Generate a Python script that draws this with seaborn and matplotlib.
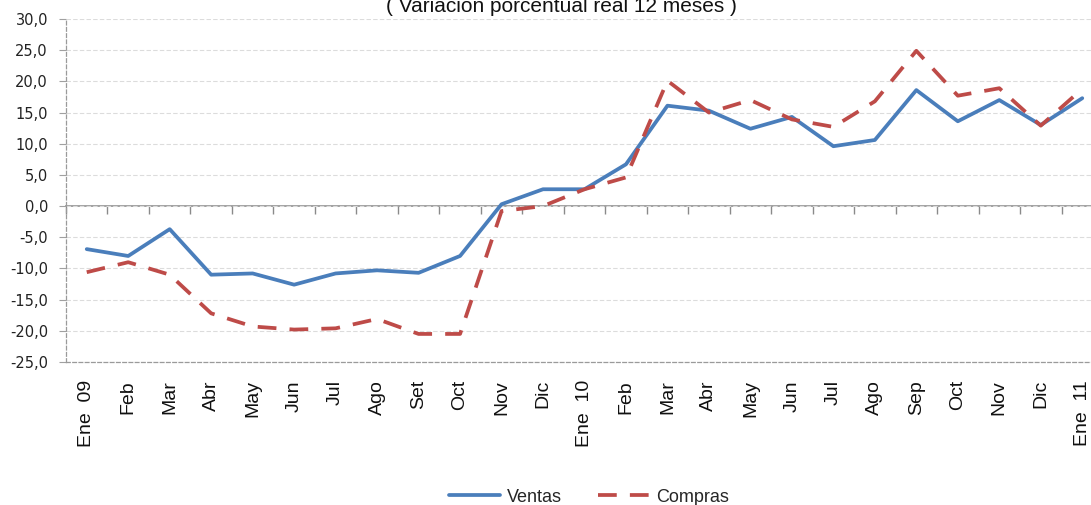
import matplotlib
matplotlib.use("Agg")
import matplotlib.pyplot as plt
import seaborn as sns
import pandas as pd
import numpy as np

months = ["Ene  09", "Feb", "Mar", "Abr", "May", "Jun", "Jul", "Ago", "Set", "Oct", "Nov", "Dic",
          "Ene  10", "Feb", "Mar", "Abr", "May", "Jun", "Jul", "Ago", "Sep", "Oct", "Nov", "Dic",
          "Ene  11"]
ventas = [-6.9, -8.0, -3.7, -11.0, -10.8, -12.6, -10.8, -10.3, -10.7, -8.0, 0.3, 2.7,
          2.7, 6.7, 16.1, 15.3, 12.4, 14.3, 9.6, 10.6, 18.6, 13.6, 17.0, 13.0, 17.3]
compras = [-10.6, -9.0, -11.0, -17.2, -19.3, -19.8, -19.6, -18.1, -20.5, -20.5, -0.8, 0.0,
           2.7, 4.6, 20.1, 15.0, 17.0, 13.9, 12.7, 16.8, 24.9, 17.7, 18.9, 12.9, 18.8]
yticks = [-25, -20, -15, -10, -5, 0, 5, 10, 15, 20, 25, 30]
title = "( Variación porcentual real 12 meses )"

sns.set_theme(style="white")
plt.rcParams["font.family"] = ["Liberation Sans", "DejaVu Sans"]

df = pd.DataFrame({"idx": np.arange(len(months)), "Ventas": ventas, "Compras": compras})

fig = plt.figure(figsize=(10.91, 5.05), dpi=100)
ax = fig.add_axes([66 / 1091, 143 / 505, 1037 / 1091, 343 / 505])

blue = "#4A7EBB"
red = "#BE4B48"
sns.lineplot(data=df, x="idx", y="Ventas", ax=ax, color=blue, lw=2.7, label="Ventas")
sns.lineplot(data=df, x="idx", y="Compras", ax=ax, color=red, lw=2.7, label="Compras")
ax.lines[1].set_dashes([5, 3.5])
ax.lines[1].set_dash_capstyle("butt")

ax.set_xlim(-0.5, len(months) - 0.5)
ax.set_ylim(yticks[0], yticks[-1])
ax.set_xlabel("")
ax.set_ylabel("")

ax.set_yticks(yticks)
ax.set_yticklabels([f"{v:.1f}".replace(".", ",") for v in yticks],
                   fontfamily="DejaVu Sans", fontsize=10.5, color="#222222")
ax.tick_params(axis="y", which="major", left=True, length=5, width=0.8, color="#a0a0a0", pad=8)

ax.set_xticks(range(len(months)))
ax.set_xticklabels(months, rotation=90, fontsize=14, color="#111111", va="top")
ax.tick_params(axis="x", length=0, pad=13)

ax.yaxis.grid(True, color="#dcdcdc", linestyle=(0, (4, 2)), lw=0.8)
ax.xaxis.grid(False)
for side in ["top", "right"]:
    ax.spines[side].set_visible(False)
for side in ["left", "bottom"]:
    ax.spines[side].set_visible(True)
    ax.spines[side].set_color("#9a9a9a")
    ax.spines[side].set_linestyle((0, (3, 2)))
    ax.spines[side].set_linewidth(0.9)

# zero axis line with category boundary ticks
zero_frac = (0 - yticks[0]) / (yticks[-1] - yticks[0])
sec = ax.secondary_xaxis(zero_frac)
sec.set_xticks(np.arange(len(months) + 1) - 0.5)
sec.set_xticklabels([])
sec.tick_params(axis="x", direction="out", length=6, width=1.0, color="#8a8a8a")
sec.spines["bottom"].set_color("#9a9a9a")
sec.spines["bottom"].set_linewidth(1.3)

ax.get_legend().remove()
handles, labels = ax.get_legend_handles_labels()
fig.legend(handles, labels, loc="center", bbox_to_anchor=(589 / 1091, 1 - 497 / 505),
           ncol=2, frameon=False, fontsize=13, handlelength=2.8, columnspacing=2.0,
           handletextpad=0.4)

fig.text(561 / 1091, 1 - 12 / 505, title, ha="center", va="baseline", fontsize=15,
         color="#111111")

fig.savefig("out.png", dpi=100)
